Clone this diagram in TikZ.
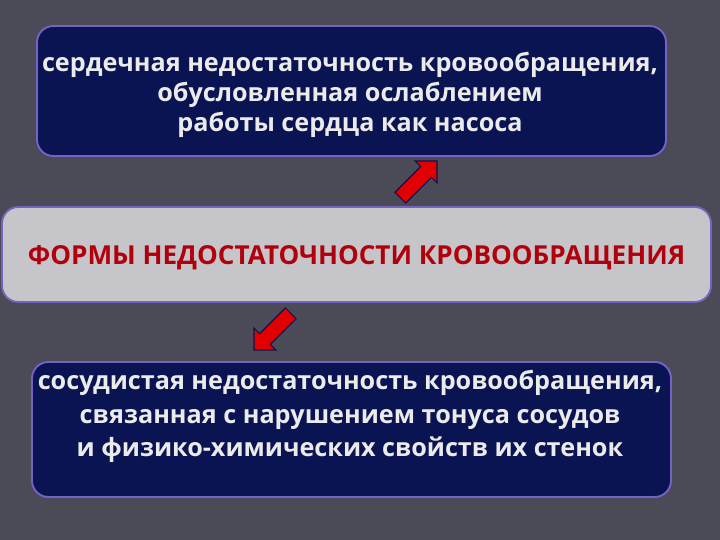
\documentclass[tikz,border=0pt]{standalone}
\usepackage{fontspec}
\setmainfont{Open Sans}
\usetikzlibrary{shapes.arrows}
\definecolor{slidebg}{HTML}{4B4B57}
\definecolor{navybox}{HTML}{0B1452}
\definecolor{rimcolor}{HTML}{7563C4}
\definecolor{palebox}{HTML}{C6C6CA}
\definecolor{formred}{HTML}{B0000C}
\newlength{\unit}
\setlength{\unit}{0.03cm}
\tikzset{
form box/.style={draw=rimcolor,line width=1.6pt,rounded corners=14pt},
dark box/.style={form box,fill=navybox},
light box/.style={form box,fill=palebox},
box text/.style={align=center,font=\bfseries\fontsize{21.5}{25.6}\selectfont,text=white!92!black},
title text/.style={font=\bfseries\fontsize{22.3}{26}\selectfont,text=formred},
red arrow/.style={single arrow,draw=navybox,line width=1pt,fill=red!88!black,
  minimum height=52\unit,single arrow head extend=8\unit,
  single arrow head indent=0pt,inner xsep=0pt,inner ysep=7\unit,text height=0pt,text depth=0pt},
}

\begin{document}
\begin{tikzpicture}[x=0.03cm,y=-0.03cm]
        \fill[slidebg] (0,0) rectangle (720,540);
        \useasboundingbox (0,0) rectangle (720,540);

        % Boxes
        \draw[dark box] (37,26) rectangle (666,156);
        \draw[light box] (2,207) rectangle (711,302);
        \draw[dark box] (32,362) rectangle (671,497);

        % Upper text
        \node[box text] (heart) at (350,94.5) {сердечная недостаточность кровообращения,\\обусловленная ослаблением\\работы сердца как насоса};

        % Title
        \node[title text] (forms) at (356.5,258) {ФОРМЫ НЕДОСТАТОЧНОСТИ КРОВООБРАЩЕНИЯ};

        % Lower text
        \node[box text,font=\bfseries\fontsize{21.5}{28.6}\selectfont] (vessel) at (350,416.5) {сосудистая недостаточность кровообращения,\\связанная с нарушением тонуса сосудов\\и физико-химических свойств их стенок};

        % Arrows
        \node[red arrow,rotate=45] (up arrow) at (416,182) {};
        \node[red arrow,rotate=225] (down arrow) at (275,329) {};

    \end{tikzpicture}
\end{document}
